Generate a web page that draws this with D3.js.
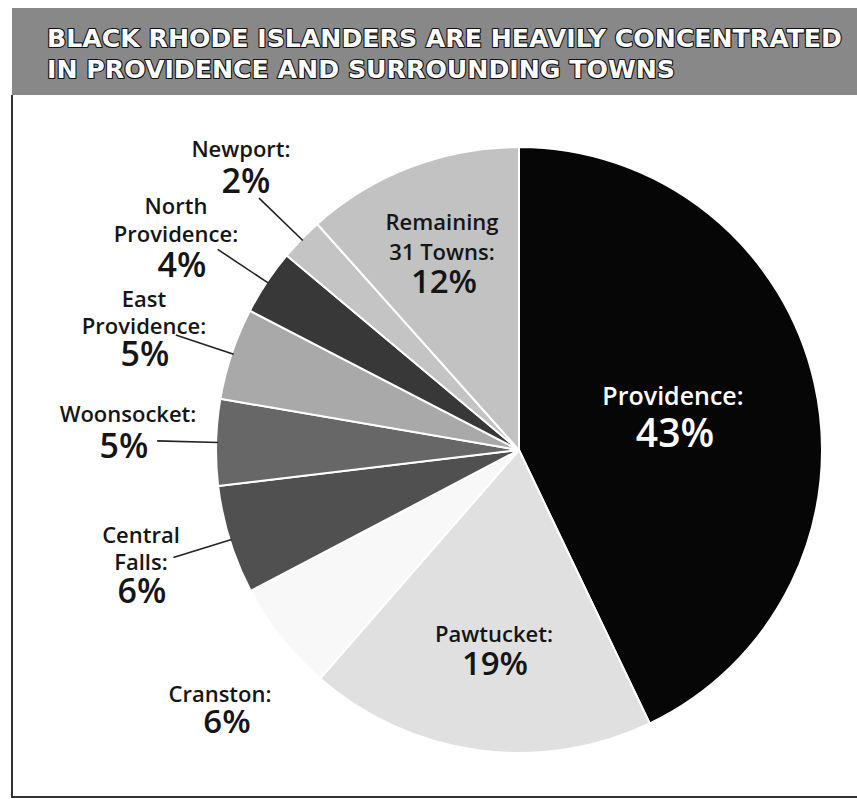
<!DOCTYPE html>
<html>
<head>
<meta charset="utf-8">
<script src="https://cdn.jsdelivr.net/npm/d3@7"></script>
<style>
  html, body { margin: 0; padding: 0; background: #fff; }
  svg { display: block; }
</style>
</head>
<body>
<svg id="chart" width="857" height="799"></svg>
<script>
// ---- data ----
const titleLines = ["BLACK RHODE ISLANDERS ARE HEAVILY CONCENTRATED", "IN PROVIDENCE AND SURROUNDING TOWNS"];
const towns = ["Providence", "Pawtucket", "Cranston", "Central Falls", "Woonsocket", "East Providence", "North Providence", "Newport", "Remaining 31 Towns"];
const shares = [42.9, 18.5, 5.9, 5.8, 4.6, 4.9, 3.5, 2.3, 11.6];
const labelNames = [["Providence:"], ["Pawtucket:"], ["Cranston:"], ["Central", "Falls:"], ["Woonsocket:"], ["East", "Providence:"], ["North", "Providence:"], ["Newport:"], ["Remaining", "31 Towns:"]];
const pctLabels = ["43%", "19%", "6%", "6%", "5%", "5%", "4%", "2%", "12%"];

// ---- styles / layout ----
const fills = ["#060606", "#e0e0e0", "#f8f8f8", "#505050", "#676767", "#a9a9a9", "#383838", "#c4c4c4", "#c2c2c2"];
const cx = 519, cy = 450, R = 303;
const hasLeader = [false, false, false, true, true, true, true, true, false];
// label layout: [centerX, nameBaseline, lineGap, pctBaseline, nameSize, pctSize, color, pctCenterX]
const layout = [
  [673, 405, 0, 447, 25, 39, "#ffffff", 675],
  [494, 642, 0, 675, 22, 33, "#151515", 495],
  [220, 702, 0, 733, 22, 33, "#151515", 227],
  [141, 543, 27, 603, 22, 34, "#151515", 142],
  [128, 422, 0, 458, 22, 34, "#151515", 124],
  [144, 307, 27, 366, 22, 34, "#151515", 145],
  [176, 214, 28, 277, 22, 34, "#151515", 182],
  [241, 157, 0, 193, 22, 34, "#151515", 246],
  [442, 230, 30, 293, 22, 33, "#151515", 444]
];

const svg = d3.select("#chart");

// banner
svg.append("rect").attr("x", 12).attr("y", 8).attr("width", 845).attr("height", 87).attr("fill", "#888888");
const font = "'DejaVu Sans', sans-serif";
const titleWidths = [795, 628];
svg.selectAll("text.title").data(titleLines).join("text")
  .attr("class", "title")
  .attr("x", 47).attr("y", (d, i) => 47 + i * 31)
  .attr("textLength", (d, i) => titleWidths[i])
  .attr("lengthAdjust", "spacingAndGlyphs")
  .attr("font-family", font).attr("font-weight", "bold").attr("font-size", 24)
  .attr("fill", "#fff").attr("stroke", "#111").attr("stroke-width", 2.2)
  .attr("paint-order", "stroke").attr("stroke-linejoin", "round")
  .text(d => d);

// box border
svg.append("path").attr("d", "M12,95 V797 H857").attr("fill", "none").attr("stroke", "#333").attr("stroke-width", 2);

// pie
const pie = d3.pie().sort(null).value(d => d)(shares);
const arc = d3.arc().innerRadius(0).outerRadius(R);
const g = svg.append("g").attr("transform", `translate(${cx},${cy})`);
g.selectAll("path").data(pie).join("path")
  .attr("d", arc)
  .attr("fill", (d, i) => fills[i])
  .attr("stroke", "#fff").attr("stroke-width", 2).attr("stroke-linejoin", "round");

// leaders
const inner = d3.arc().innerRadius(R - 2).outerRadius(R - 2);
const outer = d3.arc().innerRadius(362).outerRadius(362);
g.selectAll("line.leader").data(pie.filter((d, i) => hasLeader[i])).join("line")
  .attr("class", "leader")
  .attr("x1", d => inner.centroid(d)[0]).attr("y1", d => inner.centroid(d)[1])
  .attr("x2", d => outer.centroid(d)[0]).attr("y2", d => outer.centroid(d)[1])
  .attr("stroke", "#222").attr("stroke-width", 1.6);

// labels (one text element per label, lines as tspans)
const lf = "'Open Sans', 'Lato', sans-serif";
towns.forEach((t, i) => {
  const L = layout[i];
  const names = labelNames[i];
  const txt = svg.append("text")
    .attr("text-anchor", "middle")
    .attr("font-family", lf).attr("font-weight", 600)
    .attr("fill", L[6]);
  names.forEach((n, j) => {
    txt.append("tspan")
      .attr("x", L[0]).attr("y", L[1] + j * (L[2] || 0))
      .attr("font-size", L[4])
      .text(n);
  });
  txt.append("tspan")
    .attr("x", L[7]).attr("y", L[3])
    .attr("font-size", L[5])
    .text(pctLabels[i]);
});
</script>
</body>
</html>
